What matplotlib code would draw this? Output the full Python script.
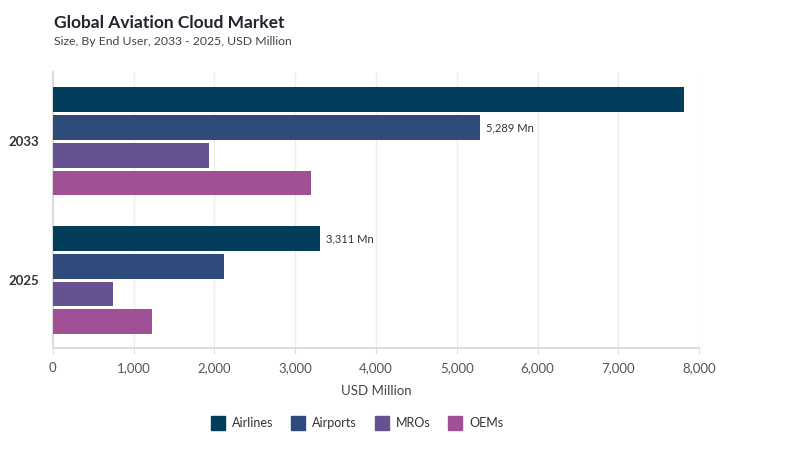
import matplotlib
matplotlib.use("Agg")
import matplotlib.pyplot as plt
import numpy as np
from matplotlib.lines import Line2D

years = ["2025", "2033"]
series = ["Airlines", "Airports", "MROs", "OEMs"]
values = {
    "Airlines": [3311, 7810],
    "Airports": [2115, 5289],
    "MROs": [740, 1930],
    "OEMs": [1230, 3195],
}
colors = ["#023e5b", "#2f4b7c", "#665191", "#a05195"]
annotations = [("Airlines", 0, "3,311 Mn"), ("Airports", 1, "5,289 Mn")]

plt.rcParams["font.family"] = ["Lato", "DejaVu Sans"]

fig = plt.figure(figsize=(8, 4.5), dpi=100)
ax = fig.add_axes([0.066, 0.2267, 0.808, 0.6133])

y = np.arange(len(years))
offsets = [0.3, 0.1, -0.1, -0.3]
for name, off, col in zip(series, offsets, colors):
    ax.barh(y + off, values[name], height=0.178, color=col, zorder=3)

for name, idx, txt in annotations:
    off = offsets[series.index(name)]
    ax.text(values[name][idx] + 70, idx + off, txt, va="center", ha="left",
            fontsize=8, color="#333333")

ax.set_xlim(0, 8000)
ax.set_ylim(-0.49, 1.5)
ax.set_xticks(np.arange(0, 8001, 1000))
ax.set_xticklabels([f"{v:,}" for v in range(0, 8001, 1000)])
ax.set_yticks(y)
ax.set_yticklabels(years, fontsize=9.5, fontweight="bold", color="#333333")
ax.tick_params(axis="x", labelsize=9.5, labelcolor="#555555", color="#dddddd", length=4, pad=6)
ax.tick_params(axis="y", length=0, pad=10)
ax.grid(axis="x", color="#eeeeee", linewidth=1, zorder=0)
for s in ["top", "right"]:
    ax.spines[s].set_visible(False)
for s in ["left", "bottom"]:
    ax.spines[s].set_color("#dddddd")
    ax.spines[s].set_linewidth(1.5)
ax.set_xlabel("USD Million", fontsize=9.5, color="#444444", labelpad=8)

fig.text(0.067, 0.95, "Global Aviation Cloud Market", fontsize=12.5, fontweight="bold",
         color="#22222e", va="center")
fig.text(0.067, 0.908, "Size, By End User, 2033 - 2025, USD Million", fontsize=8.8,
         color="#444444", va="center")

handles = [Line2D([0], [0], marker="s", linestyle="none", markersize=10,
                  markerfacecolor=c, markeredgecolor=c) for c in colors]
fig.legend(handles, series, loc="center", bbox_to_anchor=(0.443, 0.06), ncol=4,
           frameon=False, fontsize=9, handletextpad=0.1, columnspacing=1.0,
           labelcolor="#333333")

fig.savefig("out.png", dpi=100)
